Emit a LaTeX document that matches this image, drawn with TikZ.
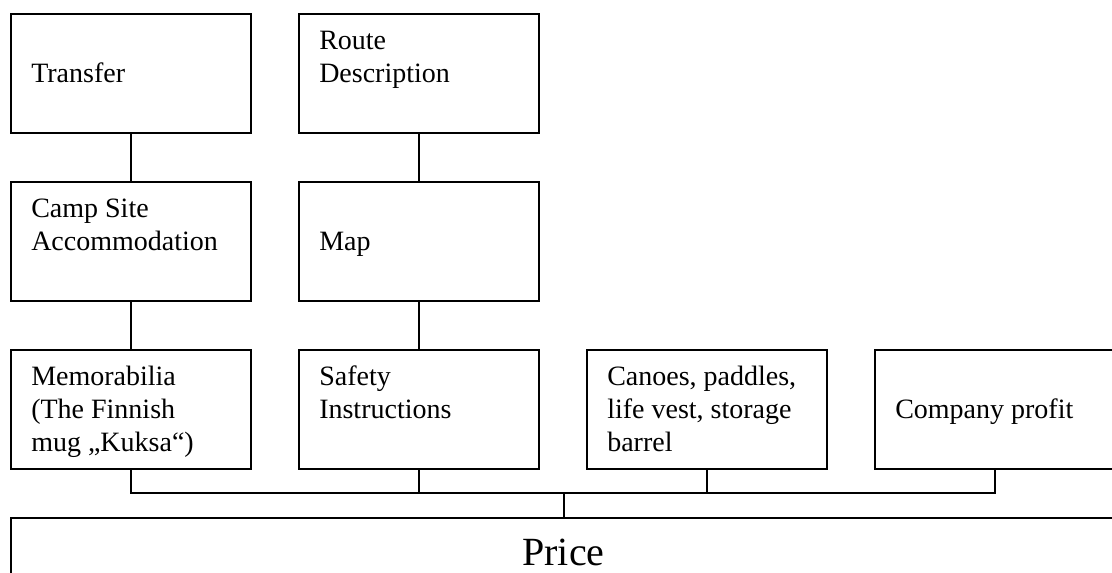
\documentclass[tikz,border=0pt]{standalone}
\usepackage{fontspec}
\setmainfont{Liberation Serif}
\usetikzlibrary{calc}
% top-aligned, left-aligned text block: its baseline is that of its first line
\newcommand\boxtext[1]{\parbox[t]{175pt}{\raggedright #1}}
\tikzset{
  box/.style={draw, line width=1.5pt, anchor=north west, inner sep=0pt,
              minimum width=180pt, minimum height=89.25pt},
  lbl/.style={anchor=base west, inner sep=0pt,
              font=\fontsize{21}{24.75}\selectfont},
  wire/.style={line width=1.5pt},
}
\begin{document}
\begin{tikzpicture}[x=0.75pt, y=-0.75pt]
\useasboundingbox (0,0) rectangle (1112,572);
\clip (0,0) rectangle (1112,572);

% first row
\node[box] (transfer) at (10,13) {};
\node[box] (route)    at (298,13) {};
% second row
\node[box] (camp) at (10,181) {};
\node[box] (map)  at (298,181) {};
% third row
\node[box] (memo)    at (10,349) {};
\node[box] (safety)  at (298,349) {};
\node[box] (canoes)  at (586,349) {};
\node[box] (profit)  at (874,349) {};
% price bar
\node[draw, line width=1.5pt, anchor=north west, inner sep=0pt,
      minimum width=828.75pt, minimum height=70pt] (price) at (10,517) {};

% labels
\node[lbl] (tTransfer) at ($(transfer.north west)+(21,69.6)$) {\boxtext{Transfer}};
\node[lbl] (tRoute)    at ($(route.north west)+(21,36.6)$) {\boxtext{Route\\Description}};
\node[lbl] (tCamp)     at ($(camp.north west)+(21,36.6)$) {\boxtext{Camp Site\\Accommodation}};
\node[lbl] (tMap)      at ($(map.north west)+(21,69.6)$) {\boxtext{Map}};
\node[lbl] (tMemo)     at ($(memo.north west)+(21,36.6)$) {\boxtext{Memorabilia\\(The Finnish\\mug „Kuksa“)}};
\node[lbl] (tSafety)   at ($(safety.north west)+(21,36.6)$) {\boxtext{Safety\\Instructions}};
\node[lbl] (tCanoes)   at ($(canoes.north west)+(21,36.6)$) {\boxtext{Canoes, paddles,\\life vest, storage\\barrel}};
\node[lbl] (tProfit)   at ($(profit.north west)+(21,69.6)$) {\boxtext{Company profit}};
\node[anchor=base, inner sep=0pt, font=\fontsize{30}{36}\selectfont] (tPrice)
      at ($(price.north)+(0,48)$) {Price};

% vertical links
\draw[wire] (transfer.south) -- (camp.north);
\draw[wire] (camp.south) -- (memo.north);
\draw[wire] (route.south) -- (map.north);
\draw[wire] (map.south) -- (safety.north);

% collecting bus into the price bar
\coordinate (bus) at (562.5,492.5);
\draw[wire] (memo.south) -- (memo.south |- bus) -- (profit.south |- bus) -- (profit.south);
\draw[wire] (safety.south) -- (safety.south |- bus);
\draw[wire] (canoes.south) -- (canoes.south |- bus);
\draw[wire] (price.north) -- (price.north |- bus);
\end{tikzpicture}
\end{document}
